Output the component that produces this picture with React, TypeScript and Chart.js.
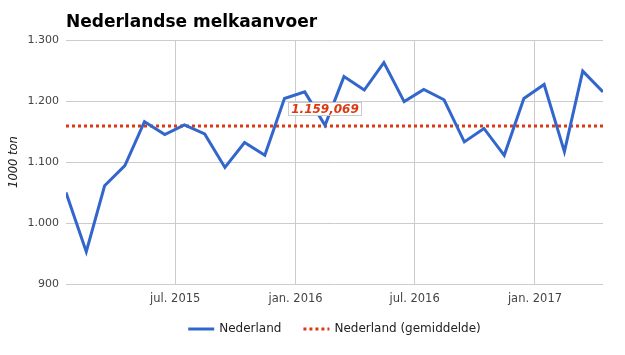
import { useEffect, useRef } from 'react';
import { Chart, registerables } from 'chart.js';

Chart.register(...registerables);

const TITLE = 'Nederlandse melkaanvoer';
const Y_TITLE = '1000 ton';
const SERIES_NAME = 'Nederland';
const MEAN_NAME = 'Nederland (gemiddelde)';

const MONTHS = [
  '2015-01', '2015-02', '2015-03', '2015-04', '2015-05', '2015-06', '2015-07', '2015-08', '2015-09', '2015-10', '2015-11', '2015-12',
  '2016-01', '2016-02', '2016-03', '2016-04', '2016-05', '2016-06', '2016-07', '2016-08', '2016-09', '2016-10', '2016-11', '2016-12',
  '2017-01', '2017-02', '2017-03', '2017-04',
];
const VALUES = [
  1050, 953, 1061, 1094, 1166, 1145, 1161, 1146, 1091, 1132, 1111, 1204,
  1215, 1160, 1240, 1218, 1263, 1199, 1219, 1202, 1133, 1155, 1111, 1204,
  1227, 1117, 1249, 1215,
];
const MEAN = 1159.069;
const MEAN_LABEL = '1.159,069';
const MEAN_LABEL_AT = '2016-02';

const X_TICKS = ['2015-07', '2016-01', '2016-07', '2017-01'];
const X_TICK_LABELS = ['jul. 2015', 'jan. 2016', 'jul. 2016', 'jan. 2017'];
const Y_TICKS = [900, 1000, 1100, 1200, 1300];
const Y_TICK_LABELS = ['900', '1.000', '1.100', '1.200', '1.300'];

const BLUE = '#3366cc';
const RED = '#dc3912';
const FONT = '"DejaVu Sans", Verdana, sans-serif';

function dayOf(m: string, d: number) {
  const [y, mo] = m.split('-').map(Number);
  return Date.UTC(y, mo - 1, d) / 864e5;
}

const decor = {
  id: 'decor',
  afterDraw(chart: any) {
    const { ctx, chartArea, scales } = chart;
    ctx.save();
    // title
    ctx.font = `bold 17px ${FONT}`;
    ctx.fillStyle = '#000';
    ctx.textAlign = 'left';
    ctx.textBaseline = 'alphabetic';
    ctx.fillText(TITLE, chartArea.left, 27);

    // mean label
    const mx = scales.x.getPixelForValue(dayOf(MEAN_LABEL_AT, 15));
    const my = scales.y.getPixelForValue(MEAN);
    ctx.font = `italic bold 12px ${FONT}`;
    const tw = ctx.measureText(MEAN_LABEL).width;
    const bw = Math.round(tw + 6);
    const bh = 14;
    const bx = Math.round(mx - bw / 2);
    const by = Math.round(my - 10 - bh);
    ctx.fillStyle = '#fff';
    ctx.fillRect(bx, by, bw, bh);
    ctx.strokeStyle = '#cccccc';
    ctx.lineWidth = 1;
    ctx.strokeRect(bx + 0.5, by + 0.5, bw - 1, bh - 1);
    ctx.fillStyle = RED;
    ctx.textAlign = 'center';
    ctx.textBaseline = 'middle';
    ctx.fillText(MEAN_LABEL, mx, by + bh / 2 + 0.5);

    // legend
    ctx.font = `12px ${FONT}`;
    const sample = 26;
    const gap = 5;
    const itemGap = 22;
    const w1 = ctx.measureText(SERIES_NAME).width;
    const w2 = ctx.measureText(MEAN_NAME).width;
    const total = sample + gap + w1 + itemGap + sample + gap + w2;
    const cx = (chartArea.left + chartArea.right) / 2;
    let x = cx - total / 2;
    const ly = 329;
    ctx.textAlign = 'left';
    ctx.textBaseline = 'middle';
    ctx.lineWidth = 3;
    ctx.strokeStyle = BLUE;
    ctx.beginPath();
    ctx.moveTo(x, ly);
    ctx.lineTo(x + sample, ly);
    ctx.stroke();
    x += sample + gap;
    ctx.fillStyle = '#222';
    ctx.fillText(SERIES_NAME, x, ly);
    x += w1 + itemGap;
    ctx.strokeStyle = RED;
    ctx.setLineDash([3, 3]);
    ctx.beginPath();
    ctx.moveTo(x, ly);
    ctx.lineTo(x + sample, ly);
    ctx.stroke();
    ctx.setLineDash([]);
    x += sample + gap;
    ctx.fillText(MEAN_NAME, x, ly);
    ctx.restore();
  },
};

export default function App() {
  const ref = useRef<HTMLCanvasElement | null>(null);
  useEffect(() => {
    if (!ref.current) return;
    const chart = new Chart(ref.current, {
      type: 'line',
      data: {
        datasets: [
          {
            label: SERIES_NAME,
            data: MONTHS.map((m, i) => ({ x: dayOf(m, 15), y: VALUES[i] })),
            borderColor: BLUE,
            borderWidth: 3,
            pointRadius: 0,
            tension: 0,
            fill: false,
          },
          {
            label: MEAN_NAME,
            data: MONTHS.map((m) => ({ x: dayOf(m, 15), y: MEAN })),
            borderColor: RED,
            borderWidth: 3,
            borderDash: [3, 3],
            pointRadius: 0,
            fill: false,
          },
        ],
      },
      options: {
        responsive: false,
        animation: false,
        layout: { padding: { top: 40, left: 0, right: 22, bottom: 0 } },
        plugins: {
          legend: { display: false },
          tooltip: { enabled: false },
          title: { display: false },
        },
        scales: {
          x: {
            type: 'linear',
            min: dayOf(MONTHS[0], 15),
            max: dayOf(MONTHS[MONTHS.length - 1], 15),
            afterBuildTicks: (s: any) => {
              s.ticks = X_TICKS.map((m) => ({ value: dayOf(m, 1) }));
            },
            afterFit: (s: any) => {
              s.height = 71;
            },
            grid: { color: '#cccccc', drawTicks: false },
            border: { display: false },
            ticks: {
              autoSkip: false,
              maxRotation: 0,
              padding: 8,
              color: '#444',
              font: { family: FONT, size: 11.5 },
              callback: (_v: any, i: number) => X_TICK_LABELS[i],
            },
          },
          y: {
            min: 900,
            max: 1300,
            afterBuildTicks: (s: any) => {
              s.ticks = Y_TICKS.map((v) => ({ value: v }));
            },
            afterFit: (s: any) => {
              s.width = 66;
            },
            grid: { color: '#cccccc', drawTicks: false },
            border: { display: false },
            ticks: {
              padding: 7,
              color: '#444',
              font: { family: FONT, size: 11 },
              callback: (v: any) => Y_TICK_LABELS[Y_TICKS.indexOf(Number(v))],
            },
            title: {
              display: true,
              text: Y_TITLE,
              color: '#222',
              padding: { top: 7, bottom: 0 },
              font: { family: FONT, size: 11.5, style: 'italic' },
            },
          },
        },
      },
      plugins: [decor],
    } as any);
    return () => chart.destroy();
  }, []);
  return (
    <div style={{ position: 'fixed', left: 0, top: 0, width: 625, height: 355, background: '#fff' }}>
      <canvas ref={ref} width={625} height={355} />
    </div>
  );
}
